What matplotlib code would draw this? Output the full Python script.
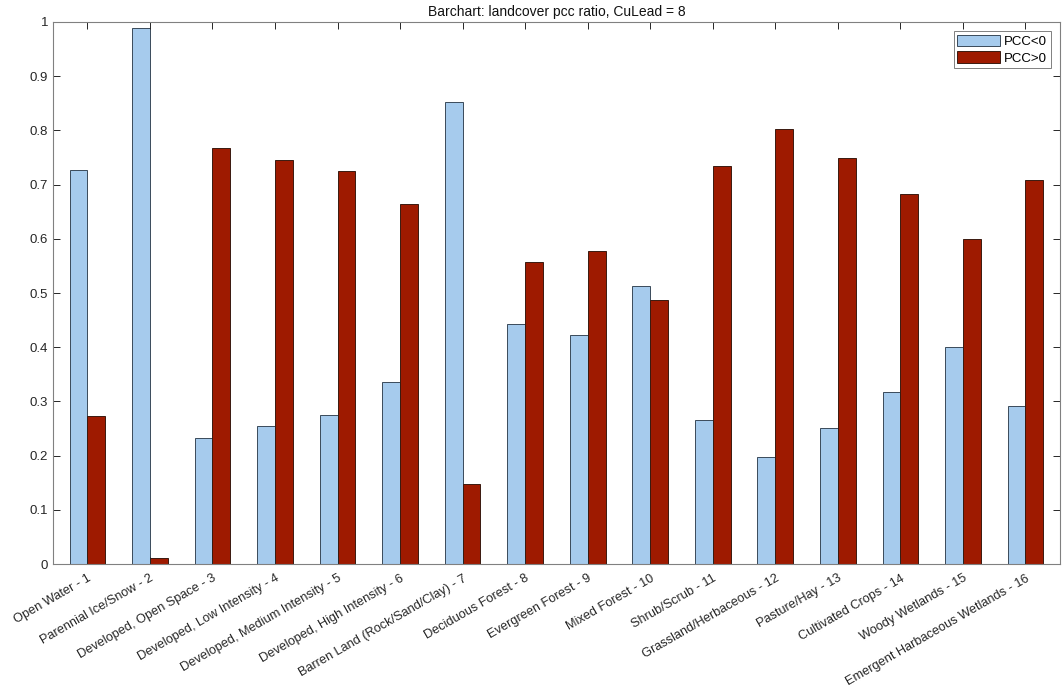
import numpy as np
import matplotlib.pyplot as plt

plt.rcParams['font.family'] = ['Liberation Sans', 'DejaVu Sans']

# landcover classes and share of negative/positive PCC
classes = ['Open Water - 1', 'Parennial Ice/Snow - 2', 'Developed, Open Space - 3',
           'Developed, Low Intensity - 4', 'Developed, Medium Intensity - 5',
           'Developed, High Intensity - 6', 'Barren Land (Rock/Sand/Clay) - 7',
           'Deciduous Forest - 8', 'Evergreen Forest - 9', 'Mixed Forest - 10',
           'Shrub/Scrub - 11', 'Grassland/Herbaceous - 12', 'Pasture/Hay - 13',
           'Cultivated Crops - 14', 'Woody Wetlands - 15',
           'Emergent Harbaceous Wetlands - 16']
pcc_neg = [0.727, 0.988, 0.232, 0.254, 0.275, 0.335, 0.852, 0.443,
           0.423, 0.513, 0.265, 0.198, 0.251, 0.318, 0.401, 0.292]
pcc_pos = [0.273, 0.012, 0.768, 0.746, 0.725, 0.665, 0.148, 0.557,
           0.577, 0.487, 0.735, 0.802, 0.749, 0.682, 0.599, 0.708]

x = np.arange(1, len(classes) + 1)
w = 0.285

fig = plt.figure(figsize=(10.62, 6.87), dpi=100)
ax = fig.add_axes([0.0499, 0.179, 0.9481, 0.789])

ax.bar(x - w / 2, pcc_neg, w, color='#a6cbed', edgecolor='#3a4a5a', linewidth=0.7, label='PCC<0')
ax.bar(x + w / 2, pcc_pos, w, color='#9e1a00', edgecolor='#3a1a10', linewidth=0.7, label='PCC>0')

ax.set_xlim(0.45, 16.55)
ax.set_ylim(0, 1)
ax.set_yticks(np.arange(0, 1.01, 0.1))
ax.set_yticklabels(['0', '0.1', '0.2', '0.3', '0.4', '0.5', '0.6', '0.7', '0.8', '0.9', '1'])
ax.set_xticks(x)
ax.set_xticklabels(classes, rotation=30, ha='right', rotation_mode='anchor')

ax.tick_params(direction='in', top=True, right=True, length=5, width=0.7,
               colors='#262626', labelsize=9.5)
ax.tick_params(axis='x', pad=6, labelsize=9.2)
for s in ax.spines.values():
    s.set_color('#808080')
    s.set_linewidth(0.8)

ax.set_title('Barchart: landcover pcc ratio, CuLead = 8', fontsize=10, color='#111111', pad=4)

leg = ax.legend(loc='upper right', fontsize=9.5, fancybox=False, framealpha=1,
                handlelength=3.3, handleheight=1.0, borderpad=0.25, labelspacing=0.25,
                handletextpad=0.3, borderaxespad=0.7)
leg.get_frame().set_edgecolor('#808080')
leg.get_frame().set_linewidth(0.7)

fig.savefig('out.png', dpi=100)
